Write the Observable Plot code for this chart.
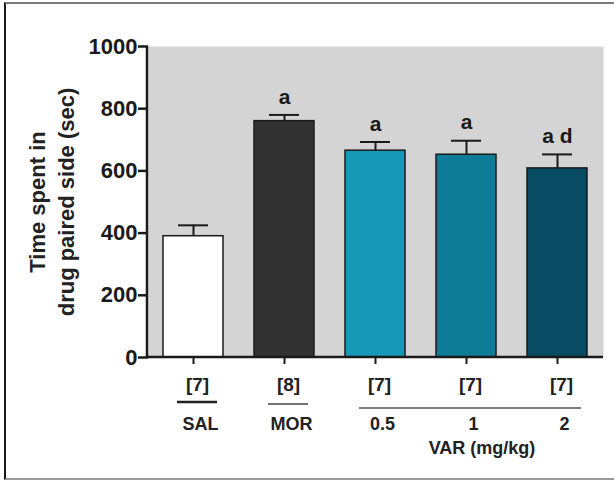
<!DOCTYPE html>
<html><head><meta charset="utf-8">
<script src="https://cdn.jsdelivr.net/npm/d3@7"></script>
<script src="https://cdn.jsdelivr.net/npm/@observablehq/plot@0.6"></script>
<style>
html,body{margin:0;padding:0;background:#fff;overflow:hidden;}
#wrap{position:relative;width:614px;height:480px;overflow:hidden;}
#chart{position:absolute;left:0;top:0;}
#border{position:absolute;left:4px;top:2px;width:700px;height:474px;border-left:2px solid #1a1a1a;border-top:2px solid #7a7a7a;border-bottom:2px solid #9a9a9a;pointer-events:none;}
</style></head><body>
<div id="wrap"><div id="chart"></div><div id="border"></div></div>
<script>
// ---- data ----
const groups = ["SAL", "MOR", "0.5", "1", "2"];
const means = [390, 760, 665, 652, 608];
const errors = [35, 20, 28, 45, 45];
const sigLetters = ["", "a", "a", "a", "a d"];
const nLabels = ["[7]", "[8]", "[7]", "[7]", "[7]"];
const barColors = ["#ffffff", "#323232", "#1699b6", "#0c7c97", "#074c63"];
const yTicks = [0, 200, 400, 600, 800, 1000];
const yTitle = "Time spent in\ndrug paired side (sec)";
const bracketFrom = ["SAL", "MOR", "0.5"];
const bracketTo = ["SAL", "MOR", "2"];
const bracketLabels = ["", "", "VAR (mg/kg)"];

const data = groups.map((g, i) => ({group: g, mean: means[i], err: errors[i], top: means[i] + errors[i], sig: sigLetters[i], n: nLabels[i], color: barColors[i]}));

const FONT = "'Liberation Sans', Arial, Helvetica, sans-serif";
const INK = "#1a1a1a";

const plot = Plot.plot({
  width: 614,
  height: 480,
  marginLeft: 148,
  marginRight: 11,
  marginTop: 46,
  marginBottom: 123,
  style: {fontFamily: FONT, background: "transparent", color: INK},
  x: {type: "band", domain: groups, paddingInner: 0.34, paddingOuter: 0.17, label: null},
  y: {domain: [0, 1000], label: null},
  marks: [
    Plot.frame({fill: "#d4d4d4", stroke: null}),
    Plot.barY(data, {x: "group", y: "mean", fill: "color", stroke: INK, strokeWidth: 1.5}),
    Plot.ruleX(data, {x: "group", y1: "mean", y2: "top", stroke: INK, strokeWidth: 2}),
    Plot.tickY(data, {x: "group", y: "top", stroke: INK, strokeWidth: 2, insetLeft: 15, insetRight: 15}),
    Plot.text(data, {x: "group", y: "top", text: "sig", dy: -18, fontSize: 21, fontWeight: "bold", fill: INK}),
    Plot.axisY({ticks: yTicks, tickFormat: d => String(d), tickSize: 10, tickPadding: 1, fontSize: 22, fontWeight: "bold", label: null, stroke: INK, strokeWidth: 2.5, fill: INK}),
    Plot.axisX({tickSize: 7, tickFormat: () => "", label: null, stroke: INK, strokeWidth: 2}),
    Plot.text(data, {x: "group", text: "n", frameAnchor: "bottom", dy: 33, dx: 4, fontSize: 19, fontWeight: "bold", fill: "#222"}),
    Plot.text(data, {x: "group", text: "group", frameAnchor: "bottom", dy: 72, dx: 7, fontSize: 18, fontWeight: "bold", fill: "#222"}),
    Plot.text([yTitle], {frameAnchor: "left", textAnchor: "middle", rotate: -90, dx: -98, fontSize: 22, fontWeight: "bold", lineHeight: 1.3, fill: "#222"})
  ]
});
document.getElementById("chart").appendChild(plot);

// axis lines and group brackets drawn through Plot's own scales
const sx = plot.scale("x");
const sy = plot.scale("y");
const bw = sx.bandwidth || 0;
const cx = v => sx.apply(v) + bw / 2;
const svg = d3.select(plot);
const xL = sx.range[0], xR = sx.range[1];
const y0 = sy.apply(0), y1 = sy.apply(1000);
svg.append("line").attr("x1", xL - 1).attr("x2", xL - 1).attr("y1", y1).attr("y2", y0 + 1)
  .attr("stroke", INK).attr("stroke-width", 2.5);
svg.append("line").attr("x1", xL - 2).attr("x2", xR).attr("y1", y0).attr("y2", y0)
  .attr("stroke", INK).attr("stroke-width", 2.5);

const bracketY = [y0 + 45, y0 + 47, y0 + 51];
const bracketW = [2.5, 1.5, 1.5];
const bracketC = ["#222", "#444", "#555"];
bracketFrom.forEach((f, i) => {
  const a = cx(f) - 20 + 4, b = cx(bracketTo[i]) + 20 + 4;
  svg.append("line").attr("x1", a).attr("x2", b).attr("y1", bracketY[i]).attr("y2", bracketY[i])
    .attr("stroke", bracketC[i]).attr("stroke-width", bracketW[i]);
  if (bracketLabels[i]) {
    svg.append("text").attr("x", (a + b) / 2 + 12).attr("y", y0 + 97)
      .attr("text-anchor", "middle").attr("font-family", FONT).attr("font-size", 18)
      .attr("font-weight", "bold").attr("fill", "#222").text(bracketLabels[i]);
  }
});
</script>
</body></html>
